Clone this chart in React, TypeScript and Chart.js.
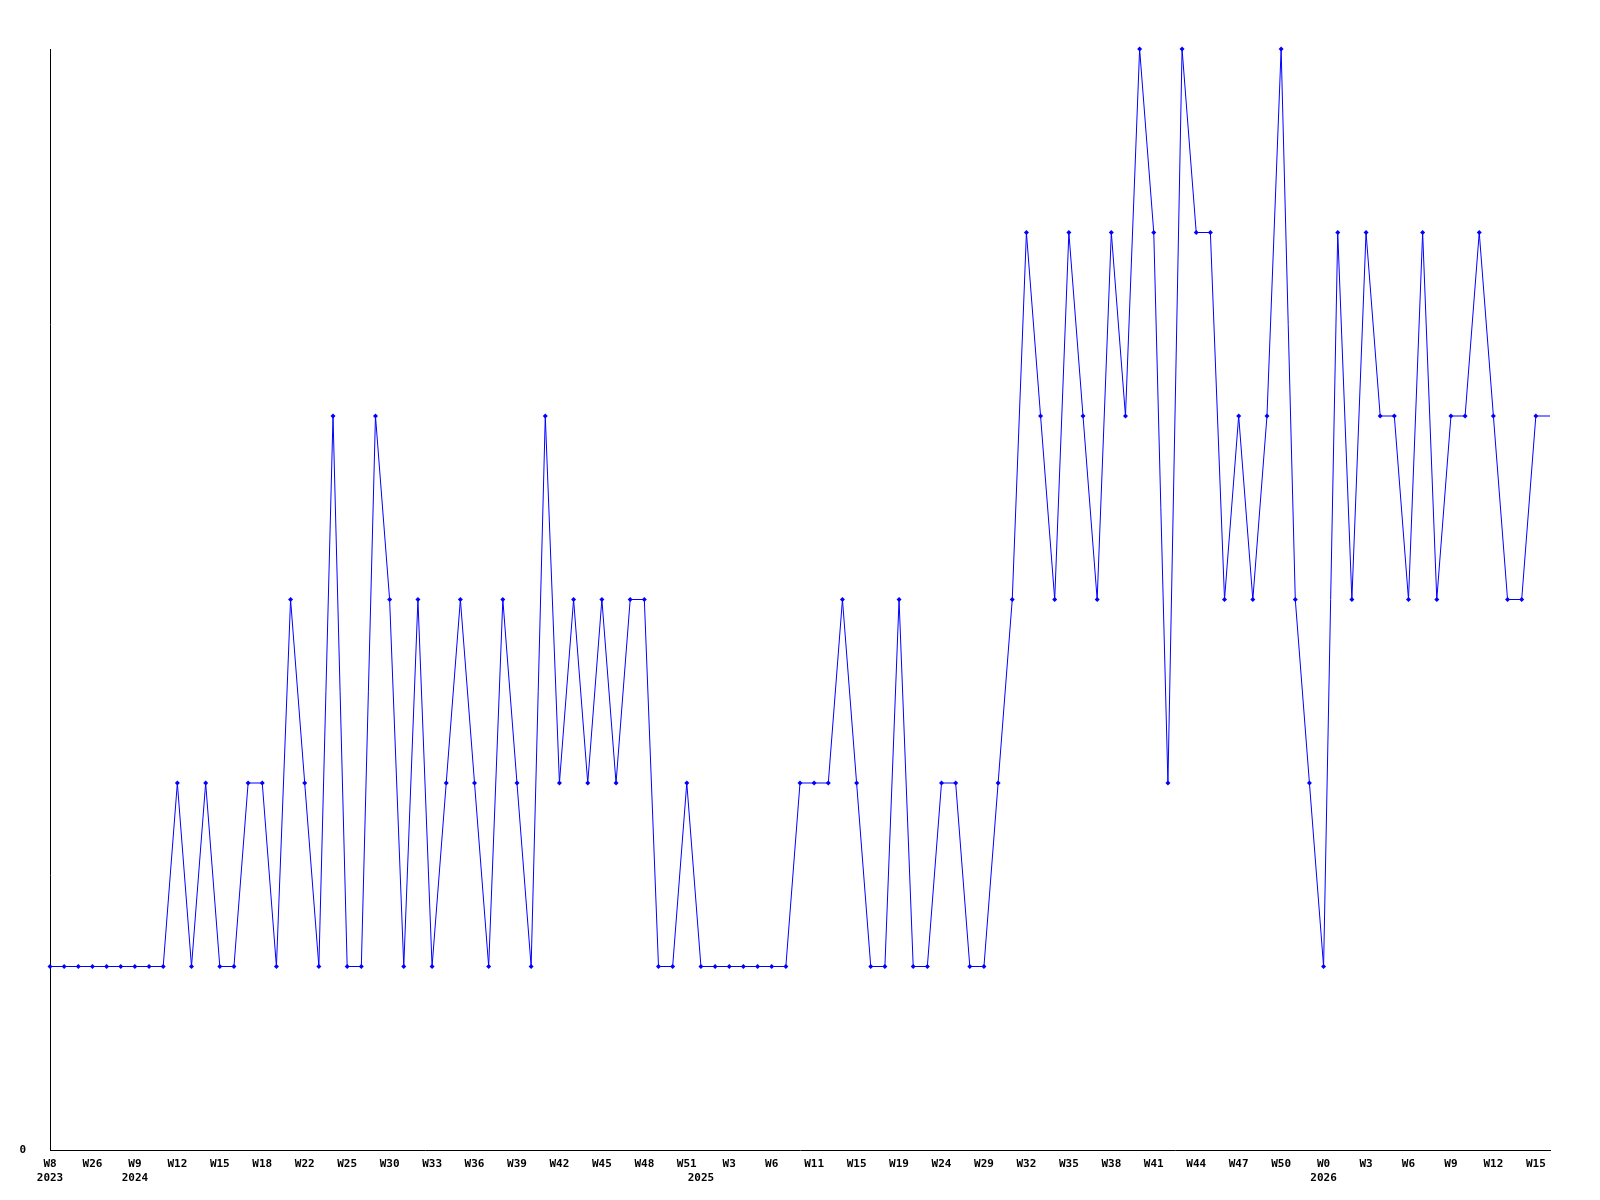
import React, { useEffect, useRef } from "react";
import { Chart, registerables } from "chart.js";

Chart.register(...registerables);

// one value per week (last value is the open, unmarked end of the line)
const values: number[] = [
  1, 1, 1, 1, 1, 1, 1, 1, 1, 2,
  1, 2, 1, 1, 2, 2, 1, 3, 2, 1,
  4, 1, 1, 4, 3, 1, 3, 1, 2, 3,
  2, 1, 3, 2, 1, 4, 2, 3, 2, 3,
  2, 3, 3, 1, 1, 2, 1, 1, 1, 1,
  1, 1, 1, 2, 2, 2, 3, 2, 1, 1,
  3, 1, 1, 2, 2, 1, 1, 2, 3, 5,
  4, 3, 5, 4, 3, 5, 4, 6, 5, 2,
  6, 5, 5, 3, 4, 3, 4, 6, 3, 2,
  1, 5, 3, 5, 4, 4, 3, 5, 3, 4,
  4, 5, 4, 3, 3, 4, 4,
];

// a week label on every third point
const weekTicks: string[] = [
  "W8", "W26", "W9", "W12", "W15", "W18", "W22", "W25", "W30", "W33",
  "W36", "W39", "W42", "W45", "W48", "W51", "W3", "W6", "W11", "W15",
  "W19", "W24", "W29", "W32", "W35", "W38", "W41", "W44", "W47", "W50",
  "W0", "W3", "W6", "W9", "W12", "W15",
];
const weekTickStep = 3;

// [point index, year]
const yearTicks: [number, string][] = [
  [0, "2023"],
  [6, "2024"],
  [46, "2025"],
  [90, "2026"],
];

const yMin = 0;
const yMax = 6;

export default function App() {
  const ref = useRef<HTMLCanvasElement | null>(null);

  useEffect(() => {
    document.body.style.margin = "0";
    const canvas = ref.current;
    if (!canvas) return;

    const labels = values.map((_, i) => String(i));
    const tickText = (i: number): string[] | null => {
      const week = i % weekTickStep === 0 ? weekTicks[i / weekTickStep] ?? "" : "";
      const yr = yearTicks.find((y) => y[0] === i);
      if (!week && !yr) return null;
      if (yr) return [week, yr[1]];
      return [week];
    };
    const radii = values.map((_, i) => (i === values.length - 1 ? 0 : 2.5));

    const font = { family: "'DejaVu Sans Mono', monospace", size: 11, weight: "bold" as const, lineHeight: "14px" };

    const chart = new Chart(canvas, {
      type: "line",
      data: {
        labels,
        datasets: [
          {
            data: values,
            borderColor: "#0000ff",
            backgroundColor: "#0000ff",
            borderWidth: 1,
            pointStyle: "rectRot",
            pointRadius: radii,
            pointBorderWidth: 0,
            pointBackgroundColor: "#0000ff",
            tension: 0,
            clip: false as any,
          },
        ],
      },
      options: {
        responsive: false,
        animation: false,
        events: [],
        layout: { padding: { top: 49, right: 50, left: 0, bottom: 0 } },
        plugins: {
          legend: { display: false },
          tooltip: { enabled: false },
          title: { display: false },
        },
        scales: {
          x: {
            type: "category",
            offset: false,
            grid: { display: false, drawTicks: false, tickLength: 0 },
            border: { display: true, color: "#000000", width: 1 },
            ticks: {
              autoSkip: false,
              maxRotation: 0,
              minRotation: 0,
              padding: 7.5,
              color: "#000000",
              font,
              callback: (_v: any, i: number) => tickText(i) as any,
            },
            afterFit: (s: any) => {
              s.height = 50;
            },
          },
          y: {
            min: yMin,
            max: yMax,
            grid: { display: false, drawTicks: false, tickLength: 0 },
            border: { display: true, color: "#000000", width: 1 },
            ticks: {
              stepSize: 1,
              padding: 24,
              color: "#000000",
              font,
              callback: (v: any) => (v === 0 ? "0" : null) as any,
            },
            afterFit: (s: any) => {
              s.width = 50;
            },
          },
        },
      },
    });

    return () => chart.destroy();
  }, []);

  return (
    <div style={{ width: 1600, height: 1200, background: "#ffffff" }}>
      <canvas ref={ref} width={1600} height={1200} style={{ display: "block" }} />
    </div>
  );
}
